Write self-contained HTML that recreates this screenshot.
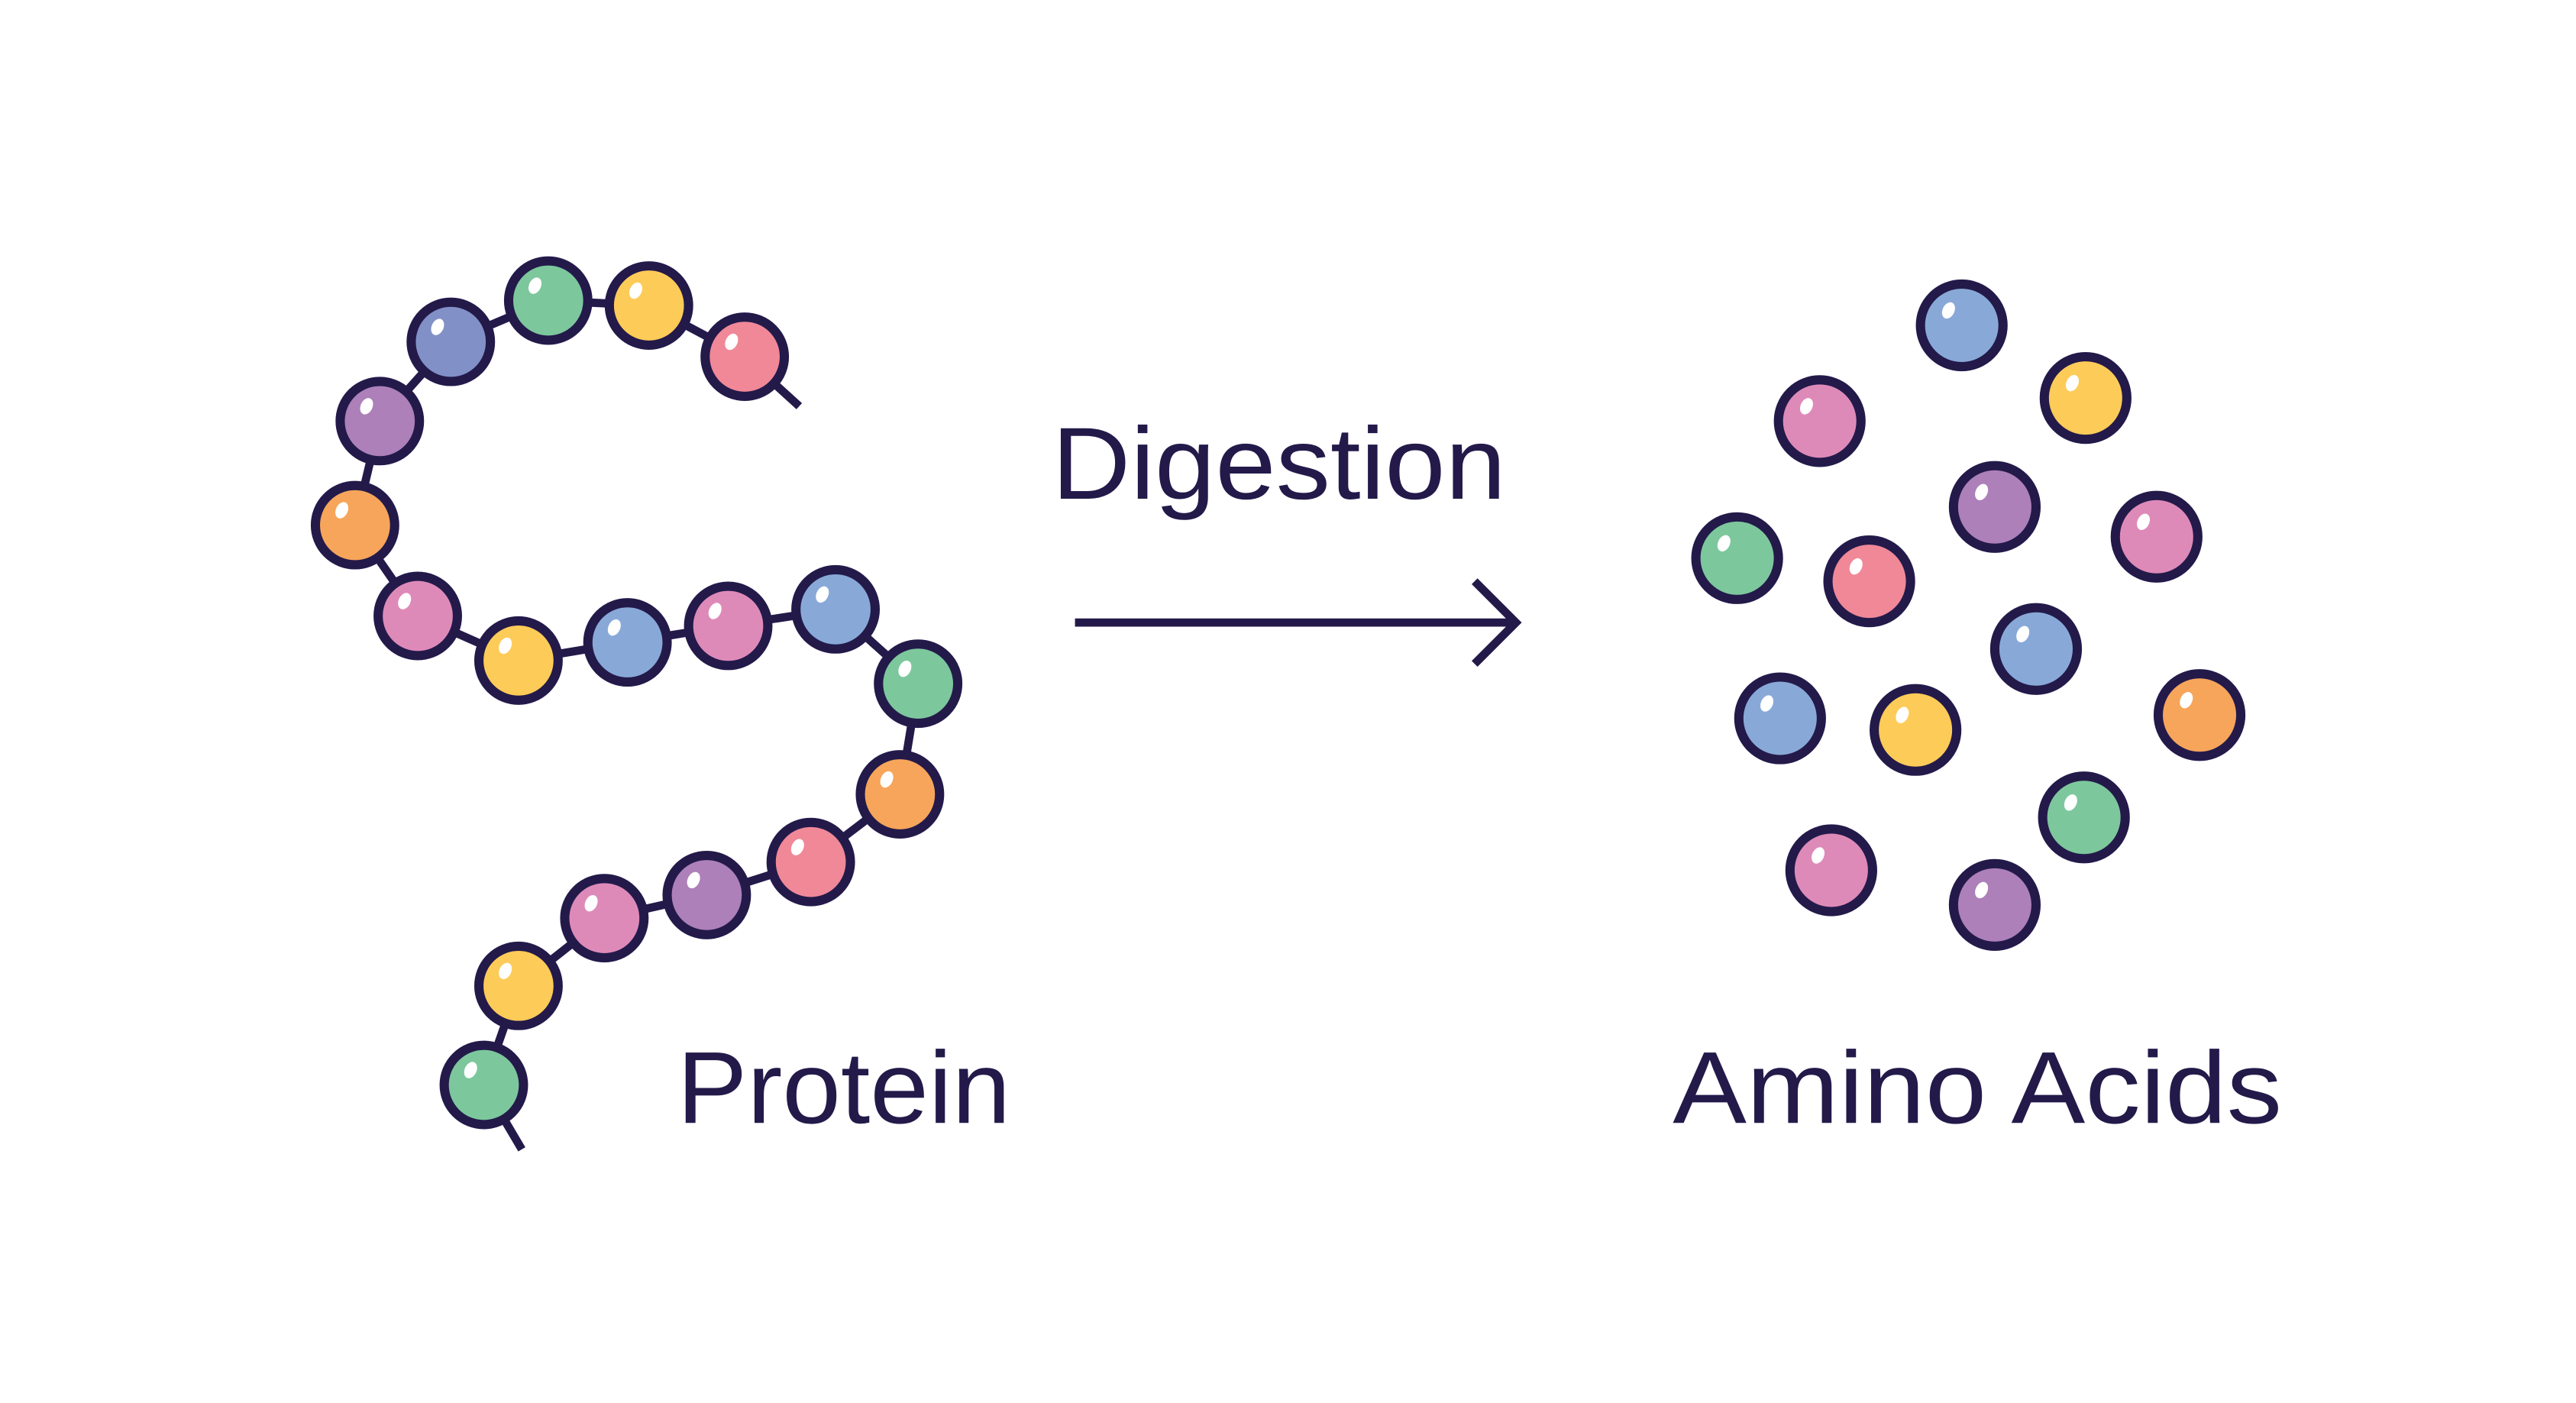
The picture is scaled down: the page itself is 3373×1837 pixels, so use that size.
<!DOCTYPE html>
<html><head><meta charset="utf-8"><style>html,body{margin:0;padding:0;background:#fff}svg{display:block}</style></head>
<body>
<svg width="3373" height="1837" viewBox="0 0 1560 849.6" xmlns="http://www.w3.org/2000/svg">
<rect width="1560" height="850" fill="#fff"/>
<defs>
<g id="hl"><ellipse rx="3.6" ry="5.2" fill="#fff" transform="rotate(25)"/></g>
</defs>
<g stroke="#231a4a" stroke-width="5" fill="none" stroke-linecap="butt">
<polyline points="484,246 451,216 393,185 332,182 273,207 230,255 215,318 253,373 314,400 380,389 441,379 506,369 556,414 545,481 491,522 428,542 366,556 314,597 293,657 316,696"/>
</g>
<g stroke="#231a4a" stroke-width="5.6">
<circle cx="451" cy="216" r="24" fill="#f08898"/>
<circle cx="393" cy="185" r="24" fill="#fdcb58"/>
<circle cx="332" cy="182" r="24" fill="#7dc79d"/>
<circle cx="273" cy="207" r="24" fill="#8190c6"/>
<circle cx="230" cy="255" r="24" fill="#ad80b9"/>
<circle cx="215" cy="318" r="24" fill="#f6a55a"/>
<circle cx="253" cy="373" r="24" fill="#de8ab9"/>
<circle cx="314" cy="400" r="24" fill="#fdcb58"/>
<circle cx="380" cy="389" r="24" fill="#88a9d8"/>
<circle cx="441" cy="379" r="24" fill="#de8ab9"/>
<circle cx="506" cy="369" r="24" fill="#88a9d8"/>
<circle cx="556" cy="414" r="24" fill="#7dc79d"/>
<circle cx="545" cy="481" r="24" fill="#f6a55a"/>
<circle cx="491" cy="522" r="24" fill="#f08898"/>
<circle cx="428" cy="542" r="24" fill="#ad80b9"/>
<circle cx="366" cy="556" r="24" fill="#de8ab9"/>
<circle cx="314" cy="597" r="24" fill="#fdcb58"/>
<circle cx="293" cy="657" r="24" fill="#7dc79d"/>

<circle cx="1188" cy="197" r="25" fill="#88a9d8"/>
<circle cx="1263" cy="241" r="25" fill="#fdcb58"/>
<circle cx="1102" cy="255" r="25" fill="#de8ab9"/>
<circle cx="1208" cy="307" r="25" fill="#ad80b9"/>
<circle cx="1306" cy="325" r="25" fill="#de8ab9"/>
<circle cx="1052" cy="338" r="25" fill="#7dc79d"/>
<circle cx="1132" cy="352" r="25" fill="#f08898"/>
<circle cx="1233" cy="393" r="25" fill="#88a9d8"/>
<circle cx="1078" cy="435" r="25" fill="#88a9d8"/>
<circle cx="1160" cy="442" r="25" fill="#fdcb58"/>
<circle cx="1332" cy="433" r="25" fill="#f6a55a"/>
<circle cx="1262" cy="495" r="25" fill="#7dc79d"/>
<circle cx="1109" cy="527" r="25" fill="#de8ab9"/>
<circle cx="1208" cy="548" r="25" fill="#ad80b9"/>
</g>
<g>
<use href="#hl" x="443" y="207"/><use href="#hl" x="385" y="176"/><use href="#hl" x="324" y="173"/>
<use href="#hl" x="265" y="198"/><use href="#hl" x="222" y="246"/><use href="#hl" x="207" y="309"/>
<use href="#hl" x="245" y="364"/><use href="#hl" x="306" y="391"/><use href="#hl" x="372" y="380"/>
<use href="#hl" x="433" y="370"/><use href="#hl" x="498" y="360"/><use href="#hl" x="548" y="405"/>
<use href="#hl" x="537" y="472"/><use href="#hl" x="483" y="513"/><use href="#hl" x="420" y="533"/>
<use href="#hl" x="358" y="547"/><use href="#hl" x="306" y="588"/><use href="#hl" x="285" y="648"/>
<use href="#hl" x="1180" y="188"/><use href="#hl" x="1255" y="232"/><use href="#hl" x="1094" y="246"/>
<use href="#hl" x="1200" y="298"/><use href="#hl" x="1298" y="316"/><use href="#hl" x="1044" y="329"/>
<use href="#hl" x="1124" y="343"/><use href="#hl" x="1225" y="384"/><use href="#hl" x="1070" y="426"/>
<use href="#hl" x="1152" y="433"/><use href="#hl" x="1324" y="424"/><use href="#hl" x="1254" y="486"/>
<use href="#hl" x="1101" y="518"/><use href="#hl" x="1200" y="539"/>
</g>
<g stroke="#231a4a" stroke-width="5" fill="none">
<line x1="651" y1="377" x2="916" y2="377"/>
<polyline points="893,352 918,377 893,402"/>
</g>
<g font-family="'Liberation Sans', sans-serif" fill="#231a4a" font-size="62">
<text x="637" y="302" textLength="275" lengthAdjust="spacingAndGlyphs">Digestion</text>
<text x="410" y="680" textLength="202" lengthAdjust="spacingAndGlyphs">Protein</text>
<text x="1013" y="680" textLength="369" lengthAdjust="spacingAndGlyphs">Amino Acids</text>
</g>
</svg>
</body></html>
